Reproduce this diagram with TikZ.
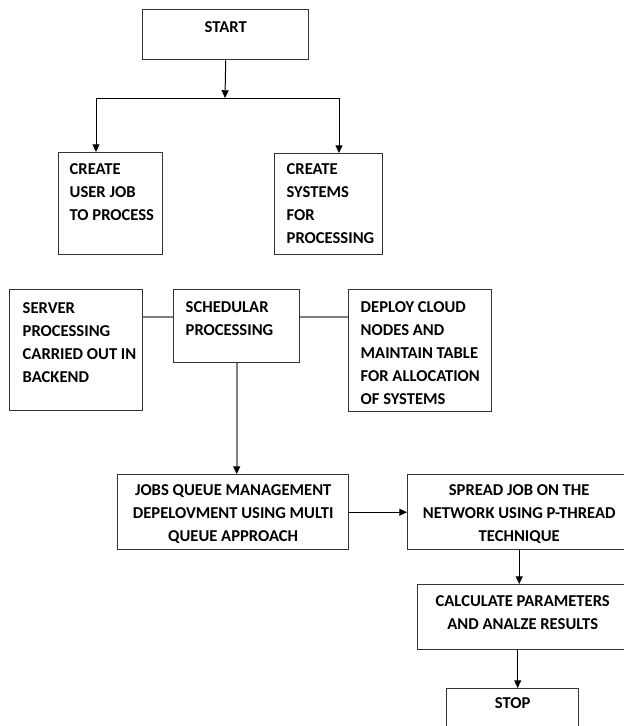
\documentclass[tikz,border=0pt]{standalone}
\usepackage{fontspec}
\setmainfont{Carlito}
\usetikzlibrary{arrows.meta}
\newdimen\px \px=0.025cm
% text boxes: width, height, top pad (, left pad), text
\newcommand{\cbox}[4]{\parbox[c][#2\px][t]{#1\px}{\vspace*{#3\px}\centering #4}}
\newcommand{\lbox}[5]{\parbox[c][#2\px][t]{#1\px}{\vspace*{#3\px}\raggedright\leftskip=#4\px #5}}
\tikzset{
  box/.style={draw=black!80, line width=1pt, inner sep=0pt, anchor=north west,
    font=\fontsize{11.8}{16.4}\selectfont\bfseries},
  arrow/.style={line width=0.7pt, -{Triangle[length=5.5pt,width=5pt,color=black]}},
  link/.style={draw=black!50, line width=1.5pt}
}
\begin{document}
\begin{tikzpicture}[x=0.025cm,y=-0.025cm]
      \clip (0,0) rectangle (624,726);
      \node[box] (start) at (142,9) {\cbox{166}{50}{12}{START}};
      \node[box] (userjob) at (58,152) {\lbox{104}{102}{11}{11}{CREATE\\USER JOB\\TO PROCESS}};
      \node[box] (systems) at (274,153) {\lbox{108}{101}{10}{12}{CREATE\\SYSTEMS\\FOR\\PROCESSING}};
      \node[box] (server) at (9,289) {\lbox{133}{121}{13}{13}{SERVER\\PROCESSING\\CARRIED OUT IN\\BACKEND}};
      \node[box] (sched) at (173,289) {\lbox{126}{73}{12}{12}{SCHEDULAR\\PROCESSING}};
      \node[box] (deploy) at (348,289) {\lbox{143}{122}{12}{12}{DEPLOY CLOUD\\NODES AND\\MAINTAIN TABLE\\FOR ALLOCATION\\OF SYSTEMS}};
      \node[box] (jobs) at (117,474) {\cbox{231}{75}{10}{JOBS QUEUE MANAGEMENT\\DEPELOVMENT USING MULTI\\QUEUE APPROACH}};
      \node[box] (spread) at (407,474) {\cbox{223}{75}{10}{SPREAD JOB ON THE\\NETWORK USING P-THREAD\\TECHNIQUE}};
      \node[box] (calc) at (417,584) {\cbox{210}{65}{11}{CALCULATE PARAMETERS\\AND ANALZE RESULTS}};
      \node[box] (stop) at (446,688) {\cbox{132}{50}{9}{STOP}};
      \coordinate (split) at (225,98);
      \coordinate (splitl) at (96,98);
      \coordinate (splitr) at (339,98);
      % top branch
      \draw[arrow] (start.south) -- (split);
      \draw[line width=0.7pt] (splitl) -- (splitr);
      \draw[arrow] (splitl) -- (splitl |- userjob.north);
      \draw[arrow] (splitr) -- (splitr |- systems.north);
      % middle row
      \draw[link] (server.east |- 0,317) -- (sched.west |- 0,317);
      \draw[link] (sched.east |- 0,317) -- (deploy.west |- 0,317);
      \draw[arrow, link, line width=1.2pt] (sched.south) -- (sched.south |- jobs.north);
      % bottom chain
      \draw[arrow] (jobs.east) -- (jobs.east -| spread.west);
      \draw[arrow] (spread.south) -- (spread.south |- calc.north);
      \draw[arrow] ([xshift=1.25mm]stop.north |- calc.south) -- ([xshift=1.25mm]stop.north);
    \end{tikzpicture}
\end{document}
